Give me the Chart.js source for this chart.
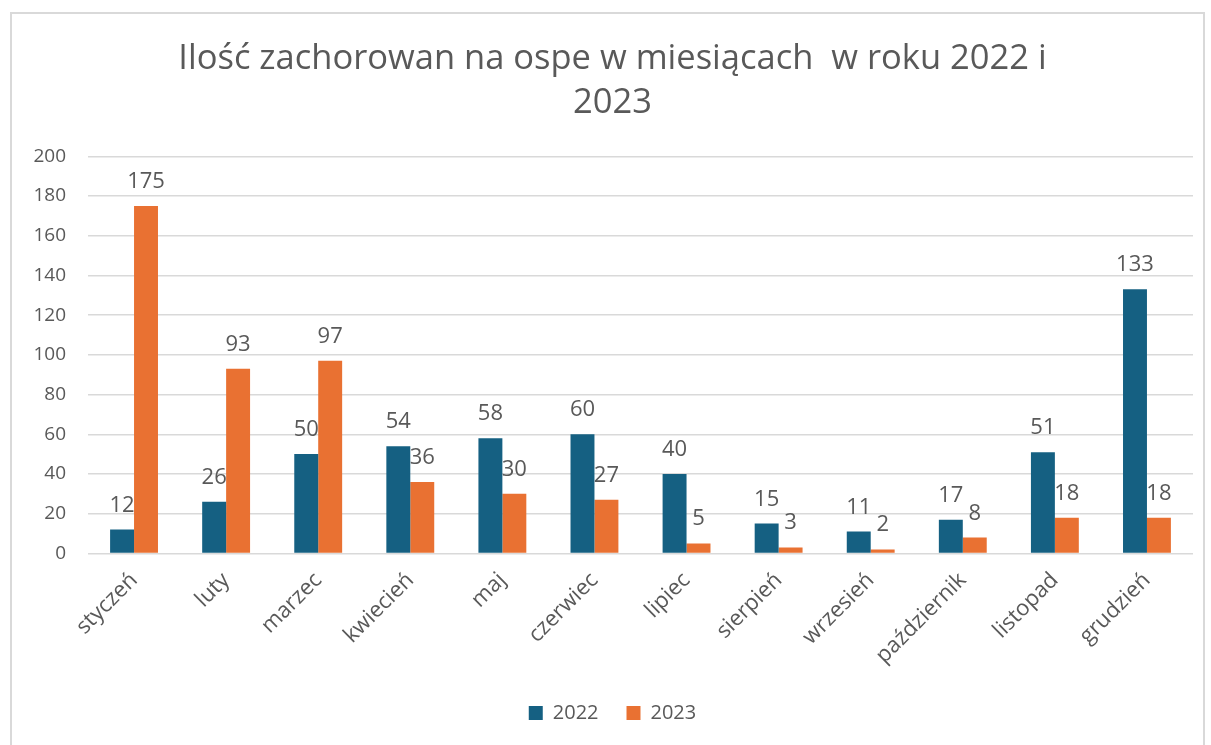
<!DOCTYPE html>
<html>
<head>
<meta charset="utf-8">
<script src="https://cdn.jsdelivr.net/npm/chart.js@4"></script>
<style>
	html, body { margin: 0; padding: 0; background: #fff; }
	#box {
		position: absolute; left: 10px; top: 12px;
		width: 1195px; height: 740px;
		border: 2px solid #d9d9d9; box-sizing: border-box;
	}
	#wrap { position: absolute; left: 0; top: 0; width: 1191px; height: 736px; }
</style>
</head>
<body>
<div id="box"><div id="wrap"><canvas id="chart"></canvas></div></div>
<script>
var months = ["styczeń", "luty", "marzec", "kwiecień", "maj", "czerwiec", "lipiec", "sierpień", "wrzesień", "październik", "listopad", "grudzień"]
var cases2022 = [12, 26, 50, 54, 58, 60, 40, 15, 11, 17, 51, 133]
var cases2023 = [175, 93, 97, 36, 30, 27, 5, 3, 2, 8, 18, 18]
var titleLines = ["Ilość zachorowan na ospe w miesiącach  w roku 2022 i", "2023"]

var FONT = "'Open Sans', 'Liberation Sans', sans-serif"
var GREY = "#595959"

// labels over bars, like excel data labels
var barLabels = {
	id: "barLabels",
	afterDatasetsDraw: function (chart) {
		var ctx = chart.ctx
		ctx.save()
		ctx.font = "22px " + FONT
		ctx.fillStyle = GREY
		ctx.textAlign = "center"
		ctx.textBaseline = "alphabetic"
		chart.data.datasets.forEach(function (ds, i) {
			var meta = chart.getDatasetMeta(i)
			meta.data.forEach(function (bar, j) {
				ctx.fillText(ds.data[j], bar.x, bar.y - 18)
			})
		})
		ctx.restore()
	}
}

new Chart(document.getElementById("chart"), {
	type: "bar",
	data: {
		labels: months,
		datasets: [
			{ label: "2022", data: cases2022, backgroundColor: "#156082" },
			{ label: "2023", data: cases2023, backgroundColor: "#e97132" }
		]
	},
	options: {
		responsive: true,
		maintainAspectRatio: false,
		animation: false,
		layout: { padding: { left: 20, right: 10, top: 0, bottom: 17 } },
		datasets: { bar: { categoryPercentage: 0.52, barPercentage: 1 } },
		plugins: {
			title: {
				display: true,
				text: titleLines,
				color: GREY,
				font: { family: FONT, size: 34.5, weight: "normal", lineHeight: 1.25 },
				padding: { top: 24, bottom: 32 }
			},
			legend: {
				position: "bottom",
				labels: {
					color: GREY,
					font: { family: FONT, size: 20 },
					boxWidth: 14, boxHeight: 14,
					padding: 28
				}
			},
			tooltip: { enabled: false }
		},
		scales: {
			x: {
				grid: { display: false },
				border: { display: false },
				ticks: {
					color: GREY,
					font: { family: FONT, size: 22 },
					maxRotation: 45, minRotation: 45,
					padding: 6
				}
			},
			y: {
				min: 0, max: 200,
				grid: { color: "#d9d9d9", lineWidth: 1.5, drawTicks: false },
				border: { display: false },
				afterFit: function (scale) { scale.width = 56 },
				ticks: {
					stepSize: 20,
					color: GREY,
					font: { family: FONT, size: 19 },
					padding: 22
				}
			}
		}
	},
	plugins: [barLabels]
})
</script>
</body>
</html>
